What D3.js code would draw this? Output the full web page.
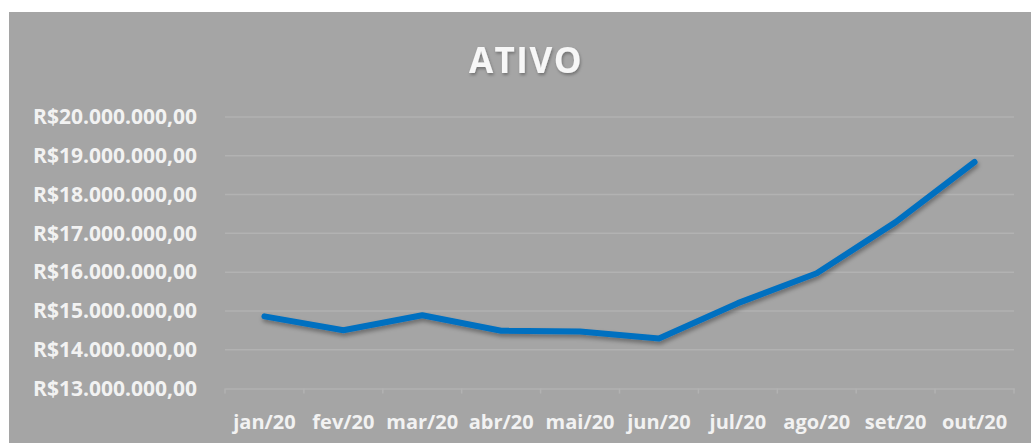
<!DOCTYPE html>
<html lang="pt">
<head>
<meta charset="UTF-8">
<title>Ativo</title>
<style>
  * { box-sizing: border-box; }
  body { margin: 0; background: #fff; font-family: 'Open Sans', sans-serif; }
  svg { display: block; }
  .tick text { fill: #f2f2f2; font-weight: 700; }
</style>
</head>
<body>
<div id="chart"></div>
<script src="https://cdn.jsdelivr.net/npm/d3@7"></script>
<script>
// dados
var meses = ['jan/20', 'fev/20', 'mar/20', 'abr/20', 'mai/20', 'jun/20', 'jul/20', 'ago/20', 'set/20', 'out/20'];
var ativo = [14860000, 14500000, 14890000, 14490000, 14470000, 14290000, 15200000, 15970000, 17290000, 18840000];
var yTicks = [13000000, 14000000, 15000000, 16000000, 17000000, 18000000, 19000000, 20000000];

var W = 1031, H = 443;
var plotL = 225, plotR = 1014, plotT = 117, plotB = 388.5;

var svg = d3.select('#chart').append('svg').attr('width', W).attr('height', H);

var defs = svg.append('defs');
var f = defs.append('filter').attr('id', 'shadow').attr('x', '-10%').attr('y', '-50%').attr('width', '120%').attr('height', '200%');
f.append('feDropShadow').attr('dx', 1).attr('dy', 3).attr('stdDeviation', 2).attr('flood-color', '#000').attr('flood-opacity', 0.35);
var ft = defs.append('filter').attr('id', 'tshadow');
ft.append('feDropShadow').attr('dx', 1).attr('dy', 2).attr('stdDeviation', 1.5).attr('flood-color', '#000').attr('flood-opacity', 0.3);

// fundo cinza
svg.append('rect').attr('x', 9).attr('y', 12).attr('width', W - 9).attr('height', H - 12).attr('fill', '#a5a5a5');

var x = d3.scaleBand().domain(meses).range([plotL, plotR]);
var y = d3.scaleLinear().domain([13000000, 20000000]).range([plotB, plotT]);

var fmt = function (v) {
  return 'R$' + d3.format(',.2f')(v).replace(/,/g, 'X').replace('.', ',').replace(/X/g, '.');
};

// grade
svg.append('g')
  .selectAll('line')
  .data(yTicks.slice(1))
  .join('line')
  .attr('x1', plotL).attr('x2', plotR)
  .attr('y1', function (d) { return y(d); }).attr('y2', function (d) { return y(d); })
  .attr('stroke', '#b2b2b2').attr('stroke-width', 1.5);

// eixo y
var gy = svg.append('g')
  .attr('transform', 'translate(197,0)')
  .call(d3.axisLeft(y).tickValues(yTicks).tickFormat(fmt).tickSize(0).tickPadding(0));
gy.select('.domain').remove();
gy.selectAll('text').attr('font-size', 21).attr('font-family', 'Open Sans');

// eixo x
var gx = svg.append('g')
  .attr('transform', 'translate(0,' + plotB + ')')
  .call(d3.axisBottom(x).tickSize(0).tickPadding(26));
gx.select('.domain').attr('stroke', '#b2b2b2').attr('stroke-width', 1.5);
gx.selectAll('text').attr('font-size', 20).attr('font-family', 'Open Sans');
gx.selectAll('.sep')
  .data(meses.concat(['fim']))
  .join('line')
  .attr('class', 'sep')
  .attr('x1', function (d, i) { return plotL + i * x.step(); })
  .attr('x2', function (d, i) { return plotL + i * x.step(); })
  .attr('y1', 0).attr('y2', 5)
  .attr('stroke', '#b2b2b2').attr('stroke-width', 1.5);

// linha
var line = d3.line()
  .x(function (d, i) { return x(meses[i]) + x.bandwidth() / 2; })
  .y(function (d) { return y(d); });

svg.append('path')
  .datum(ativo)
  .attr('d', line)
  .attr('fill', 'none')
  .attr('stroke', '#0070c0')
  .attr('stroke-width', 6)
  .attr('stroke-linecap', 'round')
  .attr('stroke-linejoin', 'round')
  .attr('filter', 'url(#shadow)');

// titulo
svg.append('text')
  .attr('x', 526).attr('y', 73)
  .attr('text-anchor', 'middle')
  .attr('font-family', 'Open Sans').attr('font-weight', 700)
  .attr('font-size', 35).attr('letter-spacing', 1.5)
  .attr('fill', '#f7f7f7')
  .attr('filter', 'url(#tshadow)')
  .text('ATIVO');
</script>
</body>
</html>
